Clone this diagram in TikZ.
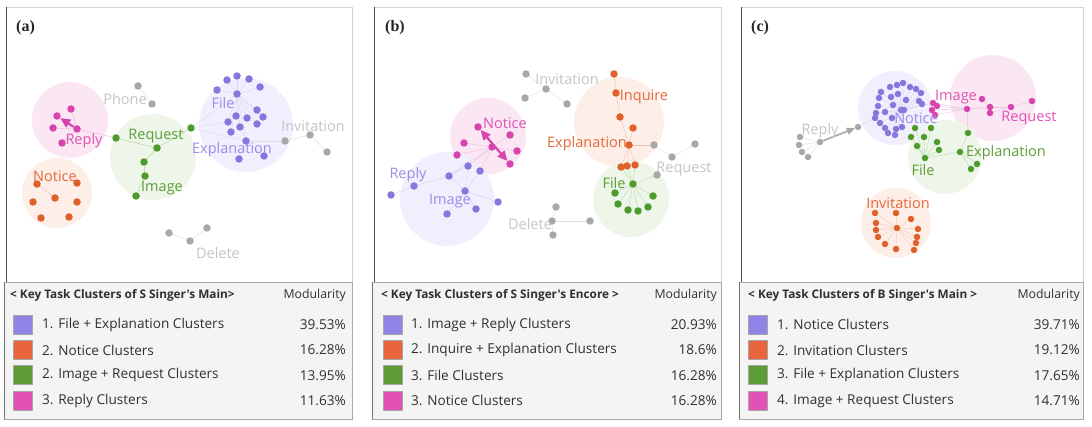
\documentclass[tikz,border=0pt]{standalone}
\usepackage{fontspec}
\setmainfont{Liberation Serif}
\newfontfamily\uifont{Open Sans}
\usetikzlibrary{arrows.meta}
\pgfdeclarelayer{halo}
\pgfdeclarelayer{edges}
\pgfsetlayers{halo,edges,main}
\definecolor{purpdot}{HTML}{8677DC}
\definecolor{orngdot}{HTML}{E0602C}
\definecolor{grndot}{HTML}{4E9A2A}
\definecolor{pnkdot}{HTML}{D844AE}
\definecolor{graydot}{HTML}{A8A8A8}
\definecolor{purplbl}{HTML}{9A8CE8}
\definecolor{ornglbl}{HTML}{E4683A}
\definecolor{grnlbl}{HTML}{5B9E35}
\definecolor{pnklbl}{HTML}{E052B4}
\definecolor{graylbl}{HTML}{C4C4C4}
\definecolor{purphalo}{HTML}{F1EFFD}
\definecolor{ornghalo}{HTML}{FDEEE7}
\definecolor{grnhalo}{HTML}{EEF6EA}
\definecolor{pnkhalo}{HTML}{FAE7F3}
\definecolor{purpsw}{HTML}{9084E6}
\definecolor{orngsw}{HTML}{E8643C}
\definecolor{grnsw}{HTML}{5D9C34}
\definecolor{pnksw}{HTML}{E251B6}
\definecolor{legbg}{HTML}{F4F4F4}
\definecolor{legline}{HTML}{A8A8A8}
\definecolor{legtext}{HTML}{303030}
\definecolor{framelight}{HTML}{D4D4D4}
\definecolor{framedark}{HTML}{505050}
\tikzset{
  dot/.style={circle,inner sep=0pt,minimum size=7.5pt},
  smalldot/.style={circle,inner sep=0pt,minimum size=6.5pt},
  edge/.style={line width=0.4pt},
  lbl/.style={font=\uifont\fontsize{14.5}{15}\selectfont,inner sep=0pt},
  paneltag/.style={font=\bfseries\fontsize{16}{16}\selectfont,inner sep=0pt,anchor=west,text=black!85},
  legtitle/.style={font=\uifont\bfseries\fontsize{11.8}{12}\selectfont,inner sep=0pt,anchor=west,text=legtext},
  legmod/.style={font=\uifont\fontsize{12.3}{12}\selectfont,inner sep=0pt,anchor=east,text=legtext},
  legrow/.style={font=\uifont\fontsize{13.6}{14}\selectfont,inner sep=0pt,anchor=west,text=legtext},
  swatch/.style={minimum size=19pt,inner sep=0pt,draw=black!35,line width=0.3pt},
}
\begin{document}
\begin{tikzpicture}[x=1pt,y=-1pt]
  \useasboundingbox (0,0) rectangle (1092,427);
  \foreach \L/\R in {6/352,374/721,741/1083} {
    \draw[framelight] (\L,7) -- (\R,7) -- (\R,282);
    \draw[framedark,line width=1pt] (\L,7) -- (\L,282);
    \filldraw[fill=legbg,draw=legline] (\L-2,282) rectangle (\R,419);
    \draw[framedark!80,line width=0.8pt] (\L-2,282) -- (\L-2,419);
  }

  % (a)
  \begin{scope}[shift={(0,0)}]
    \begin{pgfonlayer}{halo}
      \fill[pnkhalo] (70,120) circle (38pt);
      \fill[ornghalo] (57,193) circle (35pt);
      \fill[grnhalo] (153,157) circle (43pt);
      \fill[purphalo] (246,125) circle (47pt);
    \end{pgfonlayer}
    \node[paneltag] (a-tag) at (16,28) {(a)};
    \foreach \n/\x/\y in {p1/57/116,p2/71/109,p3/53/128,p4/77/129,p5/62/143}
      \node[dot,fill=pnkdot] (a\n) at (\x,\y) {};
    \foreach \n/\x/\y in {o0/55/198,o1/37/184,o2/77/183,o3/33/202,o4/77/202,o5/41/218,o6/69/217}
      \node[dot,fill=orngdot] (a\n) at (\x,\y) {};
    \foreach \n/\x/\y in {g1/116/138,g2/157/148,g3/191/128,g4/144/162,g5/145/176,g6/136/196}
      \node[dot,fill=grndot] (a\n) at (\x,\y) {};
    \foreach \n/\x/\y in {f1/227/80,f2/237/76,f3/249/79,f4/260/87,f5/217/90,f6/237/94,
        f7/257/110,f8/236/116,f9/247/118,f10/263/117,f11/228/122,f12/240/127,
        f13/257/124,f14/231/132,f15/246/141,f16/239/159,f17/264/156}
      \node[dot,fill=purpdot] (a\n) at (\x,\y) {};
    \foreach \n/\x/\y in {x1/138/86,x2/152/104,y1/285/141,y2/310/135,y3/327/152,
        d1/169/233,d2/190/241,d3/207/228}
      \node[dot,fill=graydot] (a\n) at (\x,\y) {};
    \begin{pgfonlayer}{edges}
      \foreach \u/\v in {p3/p4,p5/p4,p2/p4,p4/g1}
        \draw[edge,pnkdot!40] (a\u) -- (a\v);
      \foreach \u in {o1,...,o6}
        \draw[edge,orngdot!40] (ao0) -- (a\u);
      \foreach \u/\v in {g1/g2,g2/g3,g2/g4,g4/g5,g5/g6}
        \draw[edge,grndot!50] (a\u) -- (a\v);
      \foreach \u in {f1,f2,f3,f4,f5,f7,f8,f9,f10,f11,f12,f13,f14,f15}
        \draw[edge,purpdot!30] (af6) -- (a\u);
      \foreach \u/\v in {f15/f16,f15/f17,f15/f12,g3/f6,g3/f15,g3/f11}
        \draw[edge,purpdot!30] (a\u) -- (a\v);
      \foreach \u/\v in {x1/x2,f15/y1,y1/y2,y2/y3,d1/d2,d2/d3}
        \draw[edge,graydot!40] (a\u) -- (a\v);
    \end{pgfonlayer}
    \draw[-{Triangle[length=10pt,width=9pt]},line width=2.2pt,pnkdot] (ap4) -- (ap1);
    \node[lbl,pnklbl] (a-reply) at (84,141) {Reply};
    \node[lbl,ornglbl] (a-notice) at (55,176) {Notice};
    \node[lbl,grnlbl] (a-request) at (156,136) {Request};
    \node[lbl,grnlbl] (a-image) at (162,188) {Image};
    \node[lbl,purplbl] (a-file) at (223,103) {File};
    \node[lbl,purplbl] (a-expl) at (232,150) {Explanation};
    \node[lbl,graylbl] (a-phone) at (125,99) {Phone};
    \node[lbl,graylbl] (a-invit) at (313,126) {Invitation};
    \node[lbl,graylbl] (a-delete) at (218,253) {Delete};
    \node[legtitle] (a-title) at (10,295) {< Key Task Clusters of S Singer's Main>};
    \node[legmod] (a-mod) at (346,295) {Modularity};
    \foreach \i/\c/\t/\m in {1/purpsw/1. File + Explanation Clusters/39.53\%,
        2/orngsw/2. Notice Clusters/16.28\%,
        3/grnsw/2. Image + Request Clusters/13.95\%,
        4/pnksw/3. Reply Clusters/11.63\%} {
      \node[swatch,fill=\c] (a-sw\i) at (22.5,299+25.3*\i) {};
      \node[legrow] (a-row\i) at (42,299.5+25.3*\i) {\t};
      \node[legrow,anchor=east] (a-pct\i) at (346,299.5+25.3*\i) {\m};
    }
  \end{scope}

  % (b)
  \begin{scope}[shift={(364,0)}]
    \begin{pgfonlayer}{halo}
      \fill[pnkhalo] (124,136) circle (38pt);
      \fill[purphalo] (83,199) circle (47pt);
      \fill[ornghalo] (255,122) circle (45pt);
      \fill[grnhalo] (267,199) circle (38pt);
    \end{pgfonlayer}
    \node[paneltag] (b-tag) at (21,28) {(b)};
    \foreach \n/\x/\y in {q1/114/127,q2/146/135,q3/100/143,q4/128/147,q5/153/151,q6/93/155,q7/146/164}
      \node[dot,fill=pnkdot] (b\n) at (\x,\y) {};
    \foreach \n/\x/\y in {r1/27/195,r2/50/186,r3/85/176,r4/104/166,r5/116/171,r6/101/191,
        r7/134/202,r8/112/209,r9/83/214}
      \node[dot,fill=purpdot] (b\n) at (\x,\y) {};
    \foreach \n/\x/\y in {s1/250/74,s2/252/93,s3/256/117,s4/269/128,s5/265/145,s6/257/167,s7/263/166,s8/271/165}
      \node[dot,fill=orngdot] (b\n) at (\x,\y) {};
    \foreach \n/\x/\y in {t1/269/184,t2/251/193,t3/254/204,t4/264/210,t5/274/211,t6/284/207,t7/289/196}
      \node[dot,fill=grndot] (b\n) at (\x,\y) {};
    \foreach \n/\x/\y in {v1/162/74,v2/182/89,v3/161/98,v4/203/104,u1/290/145,u2/308/157,u3/331/144,u4/293/175,
        w1/192/207,w2/188/221,w3/189/235,w4/226/221}
      \node[dot,fill=graydot] (b\n) at (\x,\y) {};
    \begin{pgfonlayer}{edges}
      \foreach \u in {q2,q3,q5,q6,r4,r5,r3}
        \draw[edge,pnkdot!35] (bq4) -- (b\u);
      \foreach \u/\v in {r1/r2,r2/r3,r3/r4,r6/r3,r6/r4,r6/r5,r6/r7,r6/r8,r6/r9}
        \draw[edge,purpdot!35] (b\u) -- (b\v);
      \foreach \u/\v in {s1/s2,s2/s3,s3/s5,s4/s5,s5/s6,s5/s7,s5/s8,s5/u1}
        \draw[edge,orngdot!40] (b\u) -- (b\v);
      \foreach \u in {t2,t3,t4,t5,t6,t7,s6,s7,s8,u4}
        \draw[edge,grndot!40] (bt1) -- (b\u);
      \foreach \u/\v in {v1/v2,v2/v3,v2/v4,u1/u2,u2/u3,w1/w2,w2/w3,w2/w4}
        \draw[edge,graydot!40] (b\u) -- (b\v);
    \end{pgfonlayer}
    \draw[{Triangle[length=10pt,width=9pt]}-{Triangle[length=10pt,width=9pt]},line width=2.2pt,pnkdot] (bq1) -- (bq7);
    \node[lbl,pnklbl] (b-notice) at (141,123) {Notice};
    \node[lbl,purplbl] (b-reply) at (44,175) {Reply};
    \node[lbl,purplbl] (b-image) at (86,201) {Image};
    \node[lbl,ornglbl] (b-inquire) at (280,97) {Inquire};
    \node[lbl,ornglbl] (b-expl) at (223,144) {Explanation};
    \node[lbl,grnlbl] (b-file) at (250,183) {File};
    \node[lbl,graylbl] (b-invit) at (203,79) {Invitation};
    \node[lbl,graylbl] (b-request) at (320,169) {Request};
    \node[lbl,graylbl] (b-delete) at (166,224) {Delete};
    \node[legtitle] (b-title) at (17,295) {< Key Task Clusters of S Singer's Encore >};
    \node[legmod] (b-mod) at (353,295) {Modularity};
    \foreach \i/\c/\t/\m in {1/purpsw/1. Image + Reply Clusters/20.93\%,
        2/orngsw/2. Inquire + Explanation Clusters/18.6\%,
        3/grnsw/3. File Clusters/16.28\%,
        4/pnksw/3. Notice Clusters/16.28\%} {
      \node[swatch,fill=\c] (b-sw\i) at (29,299+25.3*\i) {};
      \node[legrow] (b-row\i) at (47,299.5+25.3*\i) {\t};
      \node[legrow,anchor=east] (b-pct\i) at (353,299.5+25.3*\i) {\m};
    }
  \end{scope}

  % (c)
  \begin{scope}[shift={(728,0)}]
    \begin{pgfonlayer}{halo}
      \fill[purphalo] (167,108) circle (37pt);
      \fill[pnkhalo] (265,98) circle (43pt);
      \fill[grnhalo] (217,157) circle (37pt);
      \fill[ornghalo] (168,223) circle (35pt);
    \end{pgfonlayer}
    \node[paneltag] (c-tag) at (23,28) {(c)};
    \node[smalldot,fill=purpdot] (cn0) at (176,110) {};
    \foreach \x/\y [count=\n] in {153/92,162/87,169/85,175/83,182/87,188/89,193/93,
        163/97,170/94,178/100,191/101,194/104,151/98,150/106,148/113,147/118,
        152/123,157/128,160/133,167/135,168/129,174/127,164/118,157/112,173/110,165/105}
      \node[smalldot,fill=purpdot] (cn\n) at (\x,\y) {};
    \foreach \n/\x/\y in {k1/205/103,k2/209/106,k3/204/110,k4/207/115,k5/239/109,k6/254/99,
        k7/262/107,k8/262/113,k9/283/107,k10/304/101}
      \node[smalldot,fill=pnkdot] (c\n) at (\x,\y) {};
    \foreach \n/\x/\y in {h1/187/128,h2/203/128,h3/183/137,h4/196/137,h5/209/142,h6/189/146,
        h7/211/150,h8/197/158,h9/240/133,h10/232/152,h11/249/164,h12/243/169}
      \node[smalldot,fill=grndot] (c\n) at (\x,\y) {};
    \foreach \n/\x/\y in {m0/169/228,m1/147/213,m2/168/213,m3/183/219,m4/148/223,m5/190/229,
        m6/148/230,m7/150/237,m8/189/237,m9/157/244,m10/168/249,m11/188/243,m12/186/250}
      \node[smalldot,fill=orngdot] (c\n) at (\x,\y) {};
    \foreach \n/\x/\y in {z1/72/137,z2/71/145,z3/74/152,z4/80/157,z5/92/142,z6/130/127}
      \node[smalldot,fill=graydot] (c\n) at (\x,\y) {};
    \begin{pgfonlayer}{edges}
      \foreach \n in {1,...,26}
        \draw[edge,purpdot!30] (cn0) -- (cn\n);
      \foreach \u/\v in {n0/k1,n16/z6,k1/k5,k2/k5,k3/k5,k4/k5,k5/k7,k6/k7,k7/k9,k8/k9,k9/k10,k5/k9}
        \draw[edge,pnkdot!35] (c\u) -- (c\v);
      \foreach \u/\v in {h8/h1,h8/h2,h8/h3,h8/h4,h8/h5,h8/h6,h8/h7,h8/h10,h10/h9,h10/h11,h10/h12,h9/k5}
        \draw[edge,grndot!40] (c\u) -- (c\v);
      \foreach \n in {1,...,12}
        \draw[edge,orngdot!35] (cm0) -- (cm\n);
      \foreach \u in {z1,z2,z3,z4}
        \draw[edge,graydot!40] (cz5) -- (c\u);
    \end{pgfonlayer}
    \draw[-{Triangle[length=8pt,width=7pt]},line width=1.6pt,graydot] (cz5) -- (cz6);
    \node[lbl,purplbl] (c-notice) at (188,118) {Notice};
    \node[lbl,pnklbl] (c-image) at (228,97) {Image};
    \node[lbl,pnklbl] (c-request) at (301,118) {Request};
    \node[lbl,grnlbl] (c-file) at (195,170) {File};
    \node[lbl,grnlbl] (c-expl) at (278,153) {Explanation};
    \node[lbl,ornglbl] (c-invit) at (170,203) {Invitation};
    \node[lbl,graylbl] (c-reply) at (92,131) {Reply};
    \node[legtitle] (c-title) at (20,295) {< Key Task Clusters of B Singer's Main >};
    \node[legmod] (c-mod) at (352,295) {Modularity};
    \foreach \i/\c/\t/\m in {1/purpsw/1. Notice Clusters/39.71\%,
        2/orngsw/2. Invitation Clusters/19.12\%,
        3/grnsw/3. File + Explanation Clusters/17.65\%,
        4/pnksw/4. Image + Request Clusters/14.71\%} {
      \node[swatch,fill=\c] (c-sw\i) at (30,299+25.3*\i) {};
      \node[legrow] (c-row\i) at (49,299.5+25.3*\i) {\t};
      \node[legrow,anchor=east] (c-pct\i) at (352,299.5+25.3*\i) {\m};
    }
  \end{scope}
\end{tikzpicture}
\end{document}
